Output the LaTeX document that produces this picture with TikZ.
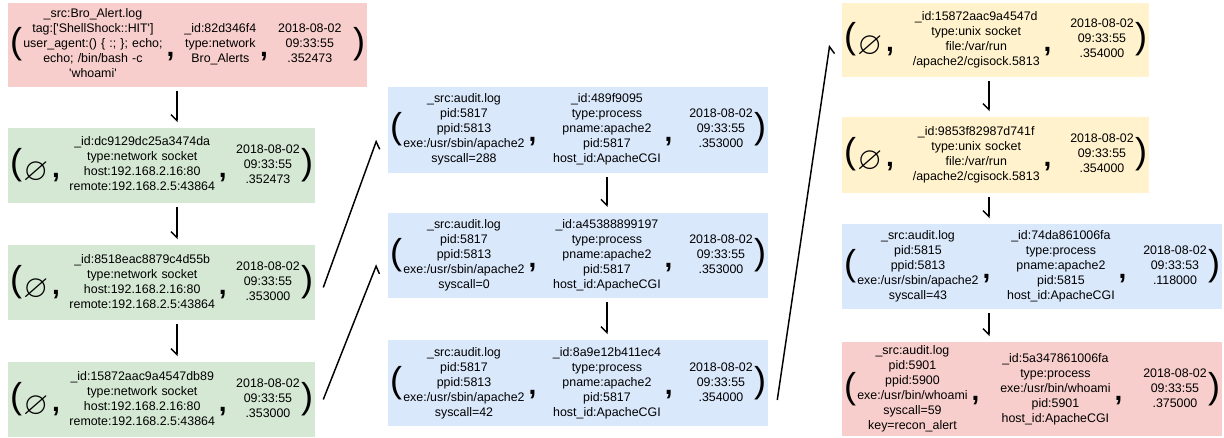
\documentclass[tikz,border=0pt]{standalone}
\usepackage{amsmath,amssymb}
\usepackage{fontspec}
\newfontfamily\boxfont{Liberation Sans}
\usetikzlibrary{arrows.meta,calc}

\definecolor{alertred}{HTML}{F8CECC}
\definecolor{sockgreen}{HTML}{D5E8D4}
\definecolor{procblue}{HTML}{DAE8FC}
\definecolor{unixyellow}{HTML}{FFF2CC}

% pieces of a tuple
\newcommand{\opn}{\raisebox{-4.5pt}{\fontsize{27}{27}\selectfont (}}
\newcommand{\cls}{\raisebox{-4.5pt}{\fontsize{27}{27}\selectfont )}}
\newcommand{\tsep}{\raisebox{-6.5pt}{\fontsize{21}{21}\selectfont\bfseries ,}}
\newcommand{\nullobj}{\raisebox{-9pt}{\fontsize{24}{24}\selectfont$\varnothing$}}
\newcommand{\fields}[1]{\begin{tabular}{@{}c@{}}#1\end{tabular}}
\newcommand{\tup}[4][]{\noindent\hbox to\hsize{\opn\kern1pt#2\kern3pt\tsep\hfil
  \fields{#3}\kern3pt\tsep\hfil\fields{#4}#1\kern1pt\cls}}

\tikzset{
  tuple/.style 2 args={text width=#1, minimum height=#2, inner xsep=1.5pt,
    inner ysep=0pt, align=center, font=\boxfont\fontsize{9.3}{11.25}\selectfont},
  flow/.style={line width=1.1pt, -{Straight Barb[right,length=4.5pt,width=9pt]},
    shorten <=3pt, shorten >=4pt},
}

\begin{document}
\begin{tikzpicture}[x=0.75pt, y=-0.75pt]

  \useasboundingbox (0,0) rectangle (1224,438);

  % column 1: alert and network sockets
  \node [tuple={266.25pt}{63pt}, fill=alertred] (alert) at (187.5,45)
    {\tup[\hfil]{\fields{\_src:Bro\_Alert.log\\tag:[\textquotesingle ShellShock::HIT\textquotesingle]\\user\_agent:() \{ :; \}; echo;\\echo; /bin/bash -c\\\textquotesingle whoami\textquotesingle}}
      {\_id:82d346f4\\type:network\\Bro\_Alerts}{2018-08-02\\09:33:55\\.352473}};

  \node [tuple={227.25pt}{56.25pt}, fill=sockgreen] (sock1) at (161.5,165.5)
    {\tup{\nullobj}{\_id:dc9129dc25a3474da\\type:network socket\\host:192.168.2.16:80\\remote:192.168.2.5:43864}{2018-08-02\\09:33:55\\.352473}};

  \node [tuple={227.25pt}{56.25pt}, fill=sockgreen] (sock2) at (161.5,282.5)
    {\tup{\nullobj}{\_id:8518eac8879c4d55b\\type:network socket\\host:192.168.2.16:80\\remote:192.168.2.5:43864}{2018-08-02\\09:33:55\\.353000}};

  \node [tuple={227.25pt}{56.25pt}, fill=sockgreen] (sock3) at (161.5,399.5)
    {\tup{\nullobj}{\_id:15872aac9a4547db89\\type:network socket\\host:192.168.2.16:80\\remote:192.168.2.5:43864}{2018-08-02\\09:33:55\\.353000}};

  % column 2: apache processes
  \node [tuple={282pt}{64.5pt}, fill=procblue] (proc1) at (578,130)
    {\tup{\fields{\_src:audit.log\\pid:5817\\ppid:5813\\exe:/usr/sbin/apache2\\syscall=288}}
      {\_id:489f9095\\type:process\\pname:apache2\\pid:5817\\host\_id:ApacheCGI}{2018-08-02\\09:33:55\\.353000}};

  \node [tuple={282pt}{64pt}, fill=procblue] (proc2) at (578,255.5)
    {\tup{\fields{\_src:audit.log\\pid:5817\\ppid:5813\\exe:/usr/sbin/apache2\\syscall=0}}
      {\_id:a45388899197\\type:process\\pname:apache2\\pid:5817\\host\_id:ApacheCGI}{2018-08-02\\09:33:55\\.353000}};

  \node [tuple={282pt}{64.5pt}, fill=procblue] (proc3) at (578,383)
    {\tup{\fields{\_src:audit.log\\pid:5817\\ppid:5813\\exe:/usr/sbin/apache2\\syscall=42}}
      {\_id:8a9e12b411ec4\\type:process\\pname:apache2\\pid:5817\\host\_id:ApacheCGI}{2018-08-02\\09:33:55\\.354000}};

  % column 3: unix sockets, apache and whoami
  \node [tuple={227.25pt}{55.5pt}, fill=unixyellow] (unix1) at (995.5,40)
    {\tup{\nullobj}{\_id:15872aac9a4547d\\type:unix socket\\file:/var/run\\/apache2/cgisock.5813}{2018-08-02\\09:33:55\\.354000}};

  \node [tuple={227.25pt}{57pt}, fill=unixyellow] (unix2) at (995.5,155)
    {\tup{\nullobj}{\_id:9853f82987d741f\\type:unix socket\\file:/var/run\\/apache2/cgisock.5813}{2018-08-02\\09:33:55\\.354000}};

  \node [tuple={282pt}{63.75pt}, fill=procblue] (proc4) at (1032,266.5)
    {\tup{\fields{\_src:audit.log\\pid:5815\\ppid:5813\\exe:/usr/sbin/apache2\\syscall=43}}
      {\_id:74da861006fa\\type:process\\pname:apache2\\pid:5815\\host\_id:ApacheCGI}{2018-08-02\\09:33:53\\.118000}};

  \node [tuple={282pt}{70.5pt}, fill=alertred] (whoami) at (1032,389)
    {\tup{\fields{\_src:audit.log\\pid:5901\\ppid:5900\\exe:/usr/bin/whoami\\syscall=59\\key=recon\_alert}}
      {\_id:5a347861006fa\\type:process\\exe:/usr/bin/whoami\\pid:5901\\host\_id:ApacheCGI}{2018-08-02\\09:33:55\\.375000}};

  % arrow columns
  \coordinate (c1) at (177,0);
  \coordinate (c2) at (607,0);
  \coordinate (c3) at (989,0);

  % downward arrows
  \draw [flow] (alert.south -| c1) -- (sock1.north -| c1);
  \draw [flow] (sock1.south -| c1) -- (sock2.north -| c1);
  \draw [flow] (sock2.south -| c1) -- (sock3.north -| c1);
  \draw [flow] (proc1.south -| c2) -- (proc2.north -| c2);
  \draw [flow] (proc2.south -| c2) -- (proc3.north -| c2);
  \draw [flow] (unix1.south -| c3) -- (unix2.north -| c3);
  \draw [flow] (unix2.south -| c3) -- (proc4.north -| c3);
  \draw [flow] (proc4.south -| c3) -- (whoami.north -| c3);

  % jumps between columns
  \draw [flow, shorten <=0pt, shorten >=0pt] ($(sock2.east)+(8,5)$) -- ($(proc1.west)+(-11,10)$);
  \draw [flow, shorten <=0pt, shorten >=0pt] ($(sock3.east)+(8,0)$) -- ($(proc2.west)+(-11,9)$);
  \draw [flow, shorten <=0pt, shorten >=0pt] ($(proc3.east)+(9,17)$) -- ($(unix1.west)+(-12,5)$);

\end{tikzpicture}
\end{document}
